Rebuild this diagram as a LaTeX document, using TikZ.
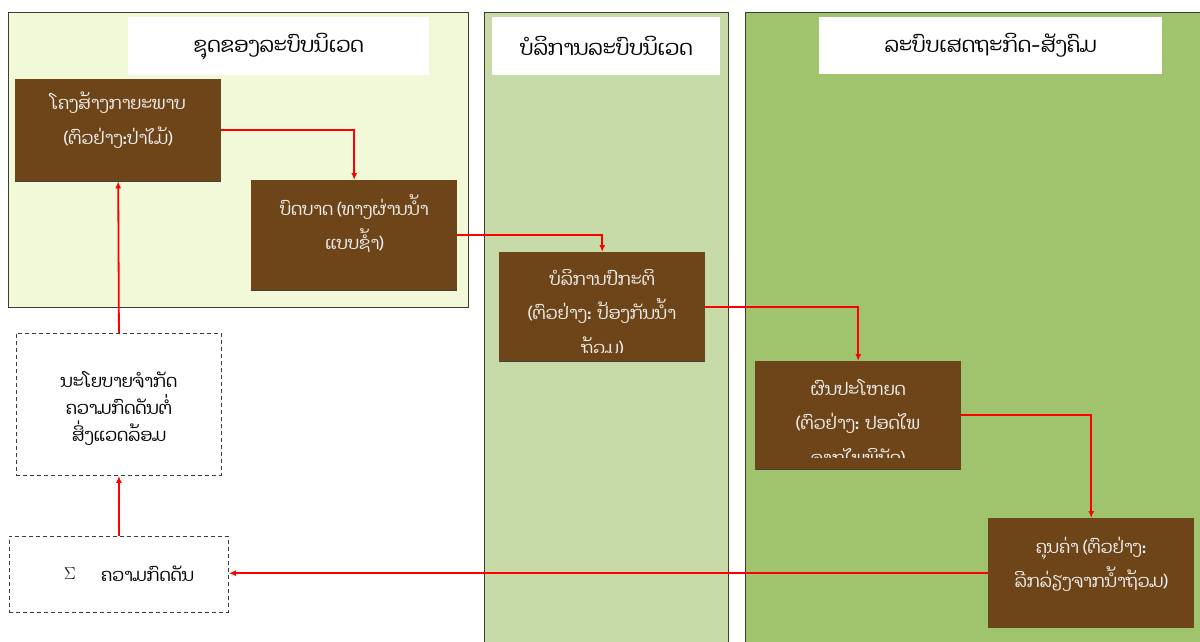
\documentclass[tikz,border=0pt]{standalone}
\usepackage{fontspec}
\newfontfamily\laofont[Script=Lao]{Dhyana}
\setmainfont{Liberation Serif}
\usetikzlibrary{arrows.meta}
\definecolor{brownc}{HTML}{6E4518}
\definecolor{panelA}{HTML}{F2F9D8}
\definecolor{panelB}{HTML}{C6DBA8}
\definecolor{panelC}{HTML}{A0C46E}
\definecolor{edgec}{HTML}{3C3C30}
\definecolor{arrowc}{HTML}{FF0000}
\definecolor{lighttext}{HTML}{F0F0F0}
\tikzset{
  panel/.style={draw=edgec, line width=1pt, anchor=north west, inner sep=0pt},
  titlebox/.style={fill=white, anchor=north west, inner sep=0pt},
  brownbox/.style={fill=brownc, anchor=north west, inner sep=0pt, minimum width=206pt, minimum height=109pt},
  dashbox/.style={draw=edgec, dash pattern=on 4pt off 3pt, line width=0.9pt, anchor=north west, inner sep=0pt, fill=white},
  titletext/.style={font=\laofont\fontsize{21}{24}\selectfont, text=black, inner sep=0pt},
  boxtext/.style={font=\laofont\fontsize{17.5}{34.5}\selectfont, text=lighttext, align=center, inner sep=0pt},
  policytext/.style={font=\laofont\fontsize{17.5}{27}\selectfont, text=black, align=center, inner sep=0pt},
  flow/.style={draw=arrowc, line width=1.8pt, -{Latex[length=7pt,width=6pt]}},
  shadowline/.style={draw=black!75, line width=1pt},
}
\begin{document}
\begin{tikzpicture}[x=1pt,y=-1pt]
\useasboundingbox (0,0) rectangle (1200,642);
\clip (0,0) rectangle (1200,642);
\fill[white] (0,0) rectangle (1200,642);
% panels
\node[panel, fill=panelA, minimum width=460pt, minimum height=295pt] (pA) at (8,12) {};
\node[panel, fill=panelB, minimum width=244pt, minimum height=660pt] (pB) at (484,12) {};
\node[panel, fill=panelC, minimum width=480pt, minimum height=660pt] (pC) at (745,12) {};
% titles
\node[titlebox, minimum width=301pt, minimum height=58pt] (tA) at (128,17) {};
\node[titletext] at (tA.center) {ຊຸດຂອງລະບົບນິເວດ};
\node[titlebox, minimum width=228pt, minimum height=58pt] (tB) at (492,17) {};
\node[titletext] at (tB.center) {ບໍລິການລະບົບນິເວດ};
\node[titlebox, minimum width=343pt, minimum height=57pt] (tC) at (819,17) {};
\node[titletext] at (tC.center) {ລະບົບເສດຖະກິດ-ສັງຄົມ};
% brown boxes
\node[brownbox, minimum height=102pt] (b1) at (15,79) {};
\draw[shadowline] (b1.south west) -- (b1.south east);
\node[boxtext, anchor=north] at (b1.north) [yshift=-13pt] {ໂຄງສ້າງກາຍະພາບ\\(ຕົວຢ່າງ:ປ່າໄມ້)};
\node[brownbox, minimum height=110pt] (b2) at (251,180) {};
\draw[shadowline] (b2.south west) -- (b2.south east);
\node[boxtext, anchor=north] at (b2.north) [yshift=-14pt] {ບົດບາດ (ທາງຜ່ານນ້ຳ\\ແບບຊ້ຳ)};
\node[brownbox] (b3) at (499,252) {};
\draw[shadowline] (b3.south west) -- (b3.south east);
\begin{scope}
\clip (499,252) rectangle (705,352);
\node[boxtext, anchor=north] at (b3.north) [yshift=-17pt] {ບໍລິການປົກະຕິ\\(ຕົວຢ່າງ: ປ້ອງກັນນ້ຳ\\ຖ້ວມ)};
\end{scope}
\node[brownbox, minimum height=108pt] (b4) at (755,361) {};
\draw[shadowline] (b4.south west) -- (b4.south east);
\begin{scope}
\clip (755,361) rectangle (961,457);
\node[boxtext, anchor=north] at (b4.north) [yshift=-18pt] {ຜົນປະໂຫຍດ\\(ຕົວຢ່າງ: ປອດໄພ\\ຈາກໄພພິບັດ)};
\end{scope}
\node[brownbox, minimum height=110pt] (b5) at (988,518) {};
\node[boxtext, anchor=north] at (b5.north) [yshift=-19pt] {ຄຸນຄ່າ (ຕົວຢ່າງ:\\ລີກລ່ຽງຈາກນ້ຳຖ້ວມ)};
% dashed boxes
\node[dashbox, minimum width=205pt, minimum height=142pt] (pol) at (16,333) {};
\node[policytext] at (pol.center) [yshift=-4pt] {ນະໂຍບາຍຈຳກັດ\\ຄວາມກົດດັນຕໍ່\\ສິ່ງແວດລ້ອມ};
\node[dashbox, minimum width=219pt, minimum height=76pt] (sig) at (9,536) {};
\node[font=\fontsize{18}{20}\selectfont, inner sep=0pt] at (70,574) {$\Sigma$};
\node[policytext, anchor=west] at (101,574) {ຄວາມກົດດັນ};
% connectors
\draw[flow] (b1.east) -| (b2.north);
\draw[flow] (b2.east) -| (b3.north);
\draw[flow] (b3.east) -| (b4.north);
\draw[flow] (b4.east) -| (b5.north);
\draw[flow] (b5.west) -- (b5.west -| sig.east);
\draw[flow] (sig.north) -- (pol.south);
\draw[flow] (pol.north) -- (b1.south);
\end{tikzpicture}
\end{document}
